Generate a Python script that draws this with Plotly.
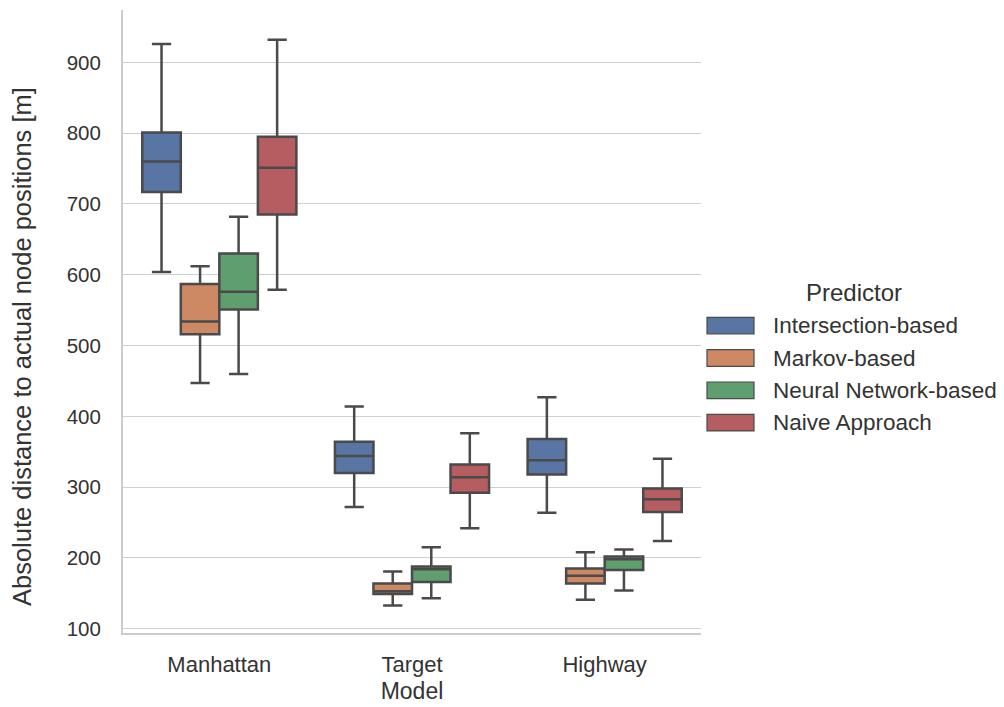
import plotly.graph_objects as go

categories = ["Manhattan", "Target", "Highway"]
predictors = ["Intersection-based", "Markov-based", "Neural Network-based", "Naive Approach"]
colors = ["#5975a4", "#cc8963", "#5f9e6e", "#b55d60"]

# per predictor: values for Manhattan, Target, Highway
upper = {
    "Intersection-based": [926, 414, 427],
    "Markov-based": [612, 181, 208],
    "Neural Network-based": [682, 215, 212],
    "Naive Approach": [932, 376, 340],
}
q3 = {
    "Intersection-based": [801, 364, 368],
    "Markov-based": [587, 164, 185],
    "Neural Network-based": [630, 188, 202],
    "Naive Approach": [795, 332, 298],
}
median = {
    "Intersection-based": [760, 344, 338],
    "Markov-based": [534, 153, 175],
    "Neural Network-based": [576, 184, 198],
    "Naive Approach": [751, 314, 283],
}
q1 = {
    "Intersection-based": [717, 320, 318],
    "Markov-based": [516, 149, 164],
    "Neural Network-based": [551, 166, 183],
    "Naive Approach": [685, 292, 265],
}
lower = {
    "Intersection-based": [604, 272, 264],
    "Markov-based": [447, 133, 141],
    "Neural Network-based": [460, 143, 154],
    "Naive Approach": [579, 242, 224],
}
y_ticks = [100, 200, 300, 400, 500, 600, 700, 800, 900]
y_title = "Absolute distance to actual node positions [m]"
x_title = "Model"
legend_title = "Predictor"

FONT = "Liberation Sans, Arial, sans-serif"
TXT = "#333333"
LINE = "#4a4a4a"

W, H = 1004, 707
L, R, T, B = 123, 303, 10, 74
PW, PH = W - L - R, H - T - B


def px_x(px):
    return (px - L) / PW


def px_y(py):
    return (H - B - py) / PH


fig = go.Figure()
for i, p in enumerate(predictors):
    fig.add_trace(go.Box(
        name=p,
        x=categories,
        q1=q1[p], median=median[p], q3=q3[p],
        lowerfence=lower[p], upperfence=upper[p],
        boxpoints=False,
        offsetgroup=str(i),
        fillcolor=colors[i],
        line=dict(color=LINE, width=2.5),
        whiskerwidth=0.5,
        showlegend=False,
        hoverinfo="skip",
    ))

# manual legend (seaborn style patches)
shapes = []
annotations = []
row0, step = 325.7, 32.3
for i, p in enumerate(predictors):
    cy = row0 + i * step
    shapes.append(dict(
        type="rect", xref="paper", yref="paper",
        x0=px_x(707), x1=px_x(754), y0=px_y(cy + 8.3), y1=px_y(cy - 8.3),
        fillcolor=colors[i], line=dict(color=LINE, width=1.2),
    ))
    annotations.append(dict(
        text=p, xref="paper", yref="paper", x=px_x(771), y=px_y(cy),
        xanchor="left", yanchor="middle", showarrow=False,
        font=dict(family=FONT, size=22.5, color=TXT),
    ))
annotations.append(dict(
    text=legend_title, xref="paper", yref="paper", x=px_x(853.5), y=px_y(292),
    xanchor="center", yanchor="middle", showarrow=False,
    font=dict(family=FONT, size=24, color=TXT),
))
# y-axis title (placed like matplotlib's label)
annotations.append(dict(
    text=y_title, xref="paper", yref="paper", x=px_x(22), y=px_y(347),
    xanchor="center", yanchor="middle", textangle=-90, showarrow=False,
    font=dict(family=FONT, size=25.5, color=TXT),
))

fig.update_layout(
    width=W, height=H, autosize=False,
    margin=dict(l=L, r=R, t=T, b=B, pad=0, autoexpand=False),
    paper_bgcolor="white", plot_bgcolor="white",
    boxmode="group", boxgap=0.2, boxgroupgap=0,
    font=dict(family=FONT, size=20, color=TXT),
    shapes=shapes, annotations=annotations,
    xaxis=dict(
        type="category", categoryorder="array", categoryarray=categories,
        range=[-0.5, 2.5], automargin=False,
        showgrid=False, showline=True, linecolor="#cccccc", linewidth=2,
        ticks="outside", ticklen=11, tickcolor="rgba(0,0,0,0)",
        tickfont=dict(family=FONT, size=22, color=TXT),
        title=dict(text=x_title, font=dict(family=FONT, size=23, color=TXT), standoff=6),
        zeroline=False,
    ),
    yaxis=dict(
        range=[94, 974], automargin=False,
        tickvals=y_ticks, ticktext=[str(v) for v in y_ticks],
        showgrid=True, gridcolor="#d0d0d0", gridwidth=1.3,
        showline=True, linecolor="#cccccc", linewidth=2,
        ticks="outside", ticklen=16, tickcolor="rgba(0,0,0,0)",
        tickfont=dict(family=FONT, size=20.5, color=TXT),
        zeroline=False,
    ),
)

fig.write_html("out.html")
